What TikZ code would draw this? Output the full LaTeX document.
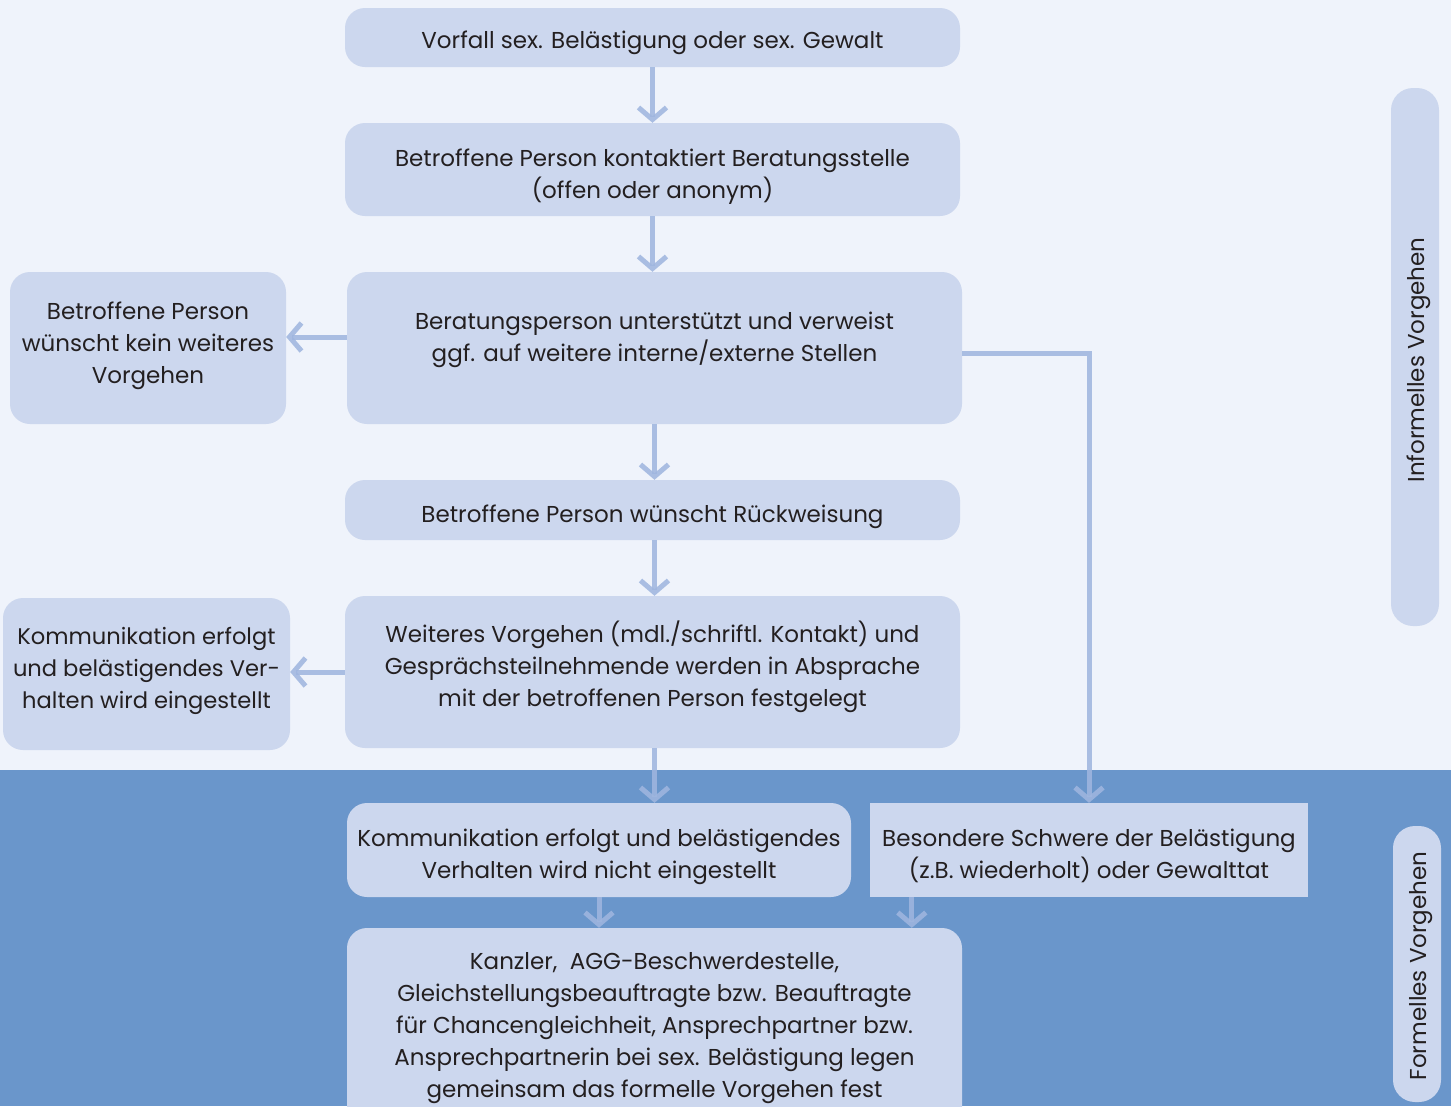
\documentclass[tikz,border=0pt]{standalone}
\usepackage{fontspec}
\setmainfont{Poppins}
\usetikzlibrary{arrows.meta,calc}
\definecolor{bglight}{HTML}{EFF3FB}
\definecolor{bgblue}{HTML}{6A96CB}
\definecolor{boxfill}{HTML}{CCD7EE}
\definecolor{arrowc}{HTML}{9FB6DF}
\definecolor{txt}{HTML}{231F20}
\begin{document}
\begin{tikzpicture}[x=1pt,y=-1pt,
  box/.style={fill=boxfill,draw=none,rounded corners=20pt,inner sep=0pt},
  sqbox/.style={box,rounded corners=0pt},
  label text/.style={align=center,text=txt,font=\fontsize{23}{32}\selectfont,inner sep=0pt},
  side/.style={fill=boxfill,draw=none,rounded corners=22pt,inner sep=0pt},
  sidetext/.style={text=txt,font=\fontsize{23}{26}\selectfont,rotate=90},
  conn/.style={draw=arrowc,line width=5pt,draw opacity=0.87,
    -{Straight Barb[length=12pt,width=28pt,line width=5pt]}}]
\useasboundingbox (0,0) rectangle (1451,1106);
\clip (0,0) rectangle (1451,1106);
\fill[bglight] (0,0) rectangle (1451,770);
\fill[bgblue] (0,770) rectangle (1451,1106);

\node[box,minimum width=615pt,minimum height=59pt] (b1) at (652.5,37.5) {};
\node[label text] (t1) at (652.5,43) {Vorfall sex. Belästigung oder sex. Gewalt};
\node[box,minimum width=615pt,minimum height=93pt] (b2) at (652.5,169.5) {};
\node[label text] (t2) at (652.5,176.5) {Betroffene Person kontaktiert Beratungsstelle\\(offen oder anonym)};
\node[box,minimum width=615pt,minimum height=152pt] (b3) at (654.5,348) {};
\node[label text] (t3) at (654.5,340) {Beratungsperson unterstützt und verweist\\ggf. auf weitere interne/externe Stellen};
\node[box,minimum width=276pt,minimum height=152pt] (b4) at (148,348) {};
\node[label text] (t4) at (148,346) {Betroffene Person\\wünscht kein weiteres\\Vorgehen};
\node[box,minimum width=615pt,minimum height=60pt] (b5) at (652.5,510) {};
\node[label text] (t5) at (652.5,517) {Betroffene Person wünscht Rückweisung};
\node[box,minimum width=615pt,minimum height=152pt] (b6) at (652.5,672) {};
\node[label text] (t6) at (652.5,667) {Weiteres Vorgehen (mdl./schriftl. Kontakt) und\\Gesprächsteilnehmende werden in Absprache\\mit der betroffenen Person festgelegt};
\node[box,minimum width=287pt,minimum height=152pt] (b7) at (146.5,674) {};
\node[label text,font=\fontsize{22.6}{32}\selectfont] (t7) at (146.5,671) {Kommunikation erfolgt\\und belästigendes Ver-\\halten wird eingestellt};
\node[box,minimum width=504pt,minimum height=94pt] (b8) at (599,850) {};
\node[label text] (t8) at (599,856.5) {Kommunikation erfolgt und belästigendes\\Verhalten wird nicht eingestellt};
\node[sqbox,minimum width=438pt,minimum height=94pt] (b9) at (1089,850) {};
\node[label text] (t9) at (1089,856) {Besondere Schwere der Belästigung\\(z.B. wiederholt) oder Gewalttat};
\node[box,minimum width=615pt,minimum height=215pt] (kbox) at (654.5,1035.5) {};
\node[label text] (ktext) at (654.5,1028) {Kanzler,\ \ AGG-Beschwerdestelle,\\Gleichstellungsbeauftragte bzw. Beauftragte\\für Chancengleichheit, Ansprechpartner bzw.\\Ansprechpartnerin bei sex. Belästigung legen\\gemeinsam das formelle Vorgehen fest};

\node[side,minimum width=48pt,minimum height=538pt] (inf) at (1415,357) {};
\node[sidetext] (inft) at (1419,360) {Informelles Vorgehen};
\node[side,minimum width=48pt,minimum height=276pt] (form) at (1417,964) {};
\node[sidetext] (formt) at (1421,966) {Formelles Vorgehen};

\draw[conn] (b1.south) -- (b2.north);
\draw[conn] (b2.south) -- (b2.south |- b3.north);
\draw[conn] ([yshift=11pt]b3.west) -- ([yshift=11pt]b3.west -| b4.east);
\draw[conn] (b3.south) -- (b3.south |- b5.north);
\draw[conn] ([xshift=2pt]b5.south) -- ([xshift=2pt]b5.south |- b6.north);
\draw[conn] (b6.west) -- (b6.west -| b7.east);
\draw[conn] ([xshift=2pt]b6.south) -- ([xshift=2pt]b6.south |- b8.north);
\draw[conn] ([yshift=-5pt]b3.east) -| (b9.north);
\draw[conn] (b8.south) -- (b8.south |- kbox.north);
\draw[conn] ([xshift=42pt]b9.south west) -- ([xshift=42pt]b9.south west |- kbox.north);
\end{tikzpicture}
\end{document}
